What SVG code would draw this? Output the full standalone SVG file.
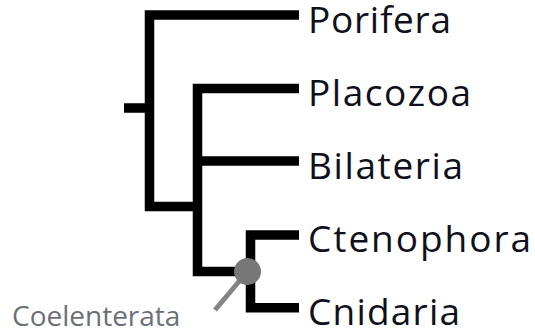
<svg xmlns="http://www.w3.org/2000/svg" width="535" height="333" viewBox="0 0 535 333">
<style>
.br{fill:none;stroke:#000;stroke-width:9.5;stroke-linejoin:miter;stroke-linecap:butt}
.lbl{font-family:"Open Sans",Lato,sans-serif;font-size:37px;fill:#10101c}
.cl{font-family:"Open Sans",Lato,sans-serif;font-size:28px;fill:#6b7078}
</style>
<rect width="535" height="333" fill="#fff"/>
<g id="connectors">
<path class="br" d="M124 108H149.5"/>
<path class="br" d="M299 15H149.5V206.5H197.5"/>
<path class="br" d="M299 88.5H197.5V271.5H250"/>
<path class="br" d="M197.5 161H299"/>
<path class="br" d="M299 235H250.5V307.7H299"/>
<line x1="247" y1="272" x2="215" y2="310" stroke="#858585" stroke-width="5"/>
<circle cx="247.5" cy="271.5" r="13.5" fill="#777"/>
</g>
<g id="porifera"><text class="lbl" x="308" y="33" textLength="143" lengthAdjust="spacing">Porifera</text></g>
<g id="placozoa"><text class="lbl" x="308" y="106" textLength="163" lengthAdjust="spacing">Placozoa</text></g>
<g id="bilateria"><text class="lbl" x="308" y="179" textLength="155" lengthAdjust="spacing">Bilateria</text></g>
<g id="ctenophora"><text class="lbl" x="308" y="252" textLength="223" lengthAdjust="spacing">Ctenophora</text></g>
<g id="cnidaria"><text class="lbl" x="308" y="325" textLength="152" lengthAdjust="spacing">Cnidaria</text></g>
<g id="coelenterata"><text class="cl" x="12" y="326">Coelenterata</text></g>
</svg>
